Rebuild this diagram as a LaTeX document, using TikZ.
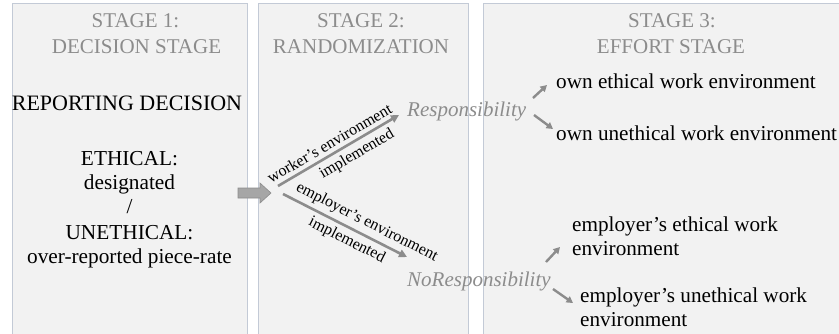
\documentclass[tikz,border=0pt]{standalone}
\usepackage{fontspec}
\setmainfont{Liberation Serif}
\newfontfamily\tms{Liberation Serif}
\usetikzlibrary{arrows.meta}
\definecolor{panelfill}{HTML}{F2F2F2}
\definecolor{panelline}{HTML}{C3CAD6}
\definecolor{headgray}{HTML}{8C8C8C}
\definecolor{arrowgray}{HTML}{8C8C8C}
\definecolor{blockfill}{HTML}{A6A6A6}
\begin{document}
\begin{tikzpicture}[x=1pt,y=-1pt,
  panel/.style={fill=panelfill,draw=panelline,line width=0.8pt},
  header/.style={font=\tms\fontsize{21}{24}\selectfont,text=headgray,inner sep=0pt,anchor=base},
  body/.style={font=\tms\fontsize{21.3}{24}\selectfont,text=black,inner sep=0pt,anchor=base},
  bodyleft/.style={font=\tms\fontsize{21.2}{24}\selectfont,text=black,inner sep=0pt,anchor=base west},
  treat/.style={font=\tms\fontsize{21}{24}\selectfont\itshape,text=headgray,inner sep=0pt,anchor=base west},
  lbl/.style={font=\tms\fontsize{16}{18}\selectfont,text=black,sloped,inner sep=4pt},
  bigarrow/.style={draw=arrowgray,line width=2.6pt,-{Triangle[length=8pt,width=8pt]}},
  smallarrow/.style={draw=arrowgray,line width=2.4pt,-{Triangle[length=6.5pt,width=7pt]}},
  block/.style={fill=blockfill,draw=arrowgray,line width=0.6pt}]
\useasboundingbox (0,0) rectangle (839,333);
\clip (0,0) rectangle (839,333);
\fill[white] (0,0) rectangle (839,333);
% panels
\draw[panel] (12,3) rectangle (247,345);
\draw[panel] (258,3) rectangle (468,345);
\draw[panel] (483,3) rectangle (862,345);
% headers
\node[header] (h1a) at (135.5,27) {STAGE 1:};
\node[header] (h1b) at (136.5,53) {DECISION STAGE};
\node[header] (h2a) at (361,27) {STAGE 2:};
\node[header] (h2b) at (361,53) {RANDOMIZATION};
\node[header] (h3a) at (672,27) {STAGE 3:};
\node[header] (h3b) at (671,53) {EFFORT STAGE};
% stage 1 text
\node[body,font=\tms\fontsize{22}{24}\selectfont] (rep) at (127,110) {REPORTING DECISION};
\node[body] (eth) at (129.5,165) {ETHICAL:};
\node[body] (des) at (129.5,189) {designated};
\node[body] (sl) at (129.5,213) {/};
\node[body] (uneth) at (129.5,239) {UNETHICAL:};
\node[body] (over) at (129.5,263) {over-reported piece-rate};
% block arrow
\filldraw[block] (238,188) -- (260,188) -- (260,183) -- (271,193) -- (260,203) -- (260,198) -- (238,198) -- cycle;
% stage 2
\coordinate (s1) at (278,186);
\coordinate (e1) at (399,115);
\coordinate (s2) at (283,194);
\coordinate (e2) at (407,257);
\draw[bigarrow] (s1) -- (e1)
  node[lbl,above,pos=0.47] (l1) {worker’s environment}
  node[lbl,below,pos=0.6] (l2) {implemented};
\draw[bigarrow] (s2) -- (e2)
  node[lbl,above,pos=0.63] (l3) {employer’s environment}
  node[lbl,below,pos=0.56] (l4) {implemented};
\node[treat] (resp) at (407,116) {Responsibility};
\node[treat] (noresp) at (407,286) {NoResponsibility};
% stage 3
\node[bodyleft] (o1) at (556,88) {own ethical work environment};
\node[bodyleft] (o2) at (556,140) {own unethical work environment};
\node[bodyleft] (em1) at (572,231) {employer’s ethical work};
\node[bodyleft] (em1b) at (572,255) {environment};
\node[bodyleft] (em2) at (580,302) {employer’s unethical work};
\node[bodyleft] (em2b) at (580,326) {environment};
\draw[smallarrow] (533,98) -- (547,85);
\draw[smallarrow] (534,115) -- (553,129);
\draw[smallarrow] (546,262) -- (560,247);
\draw[smallarrow] (553,289) -- (573,303);
\end{tikzpicture}
\end{document}
